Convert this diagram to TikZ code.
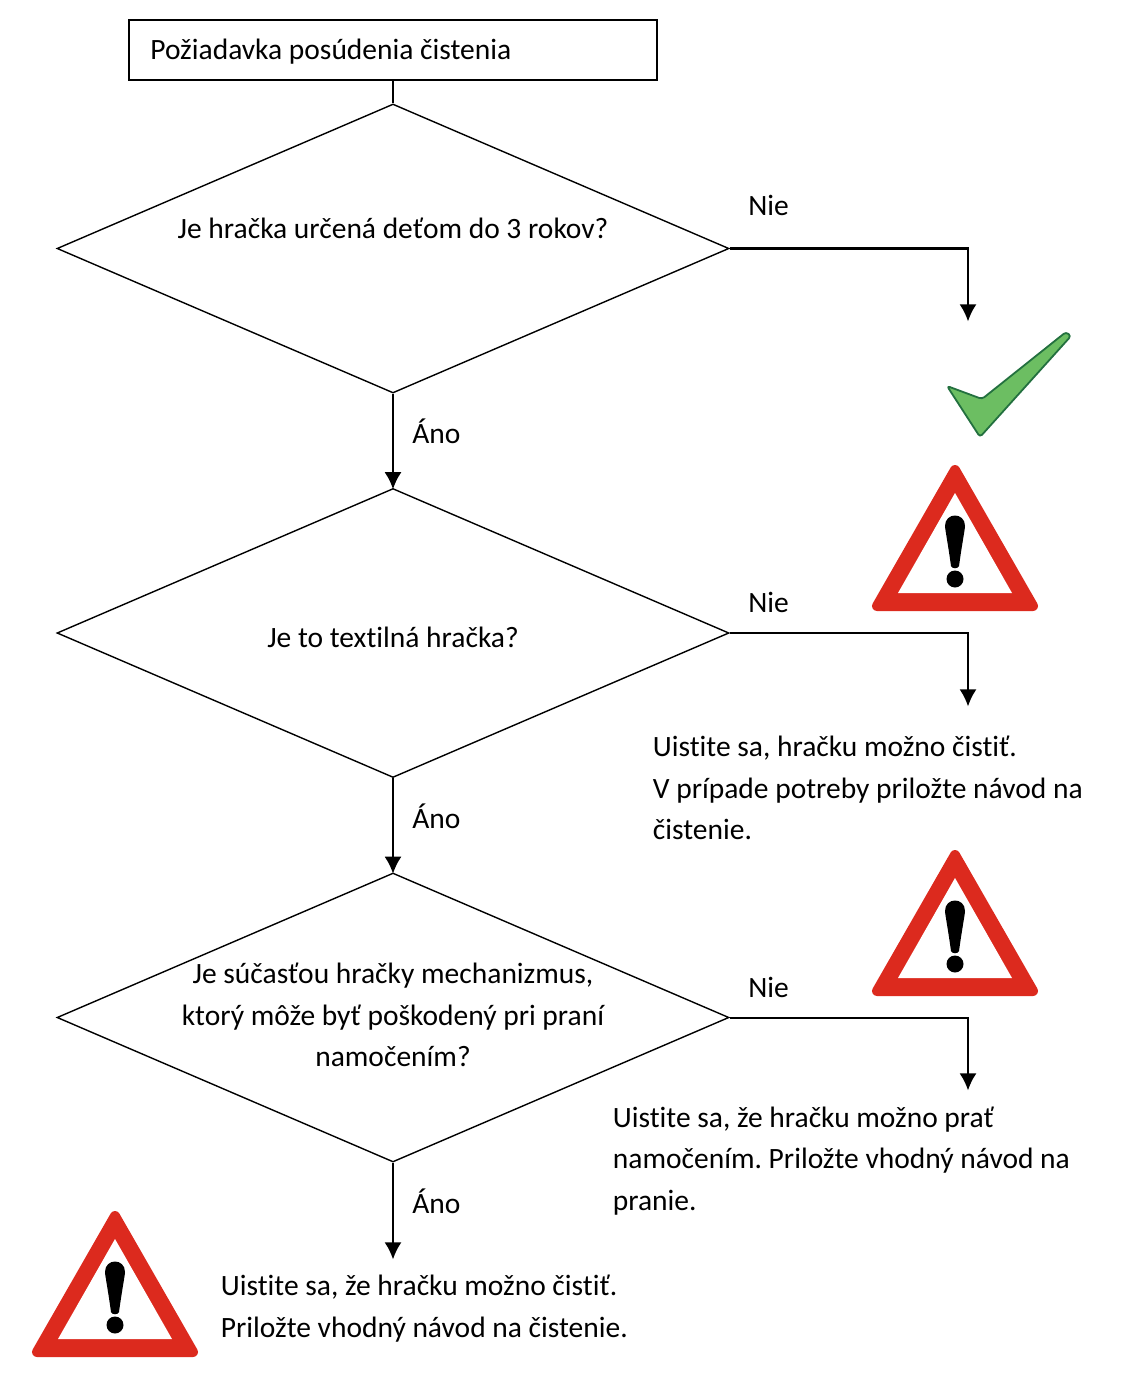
\documentclass[tikz,border=0pt]{standalone}
\usepackage{fontspec}
\setmainfont[Ligatures=NoCommon]{Carlito}
\usetikzlibrary{shapes.geometric,arrows.meta}
\definecolor{warnred}{HTML}{DC2A1E}
\definecolor{checkgreen}{HTML}{6CBE62}
\definecolor{checkedge}{HTML}{23703F}
\frenchspacing
\tikzset{
    flowtext/.style={inner sep=0pt, align=left, font=\fontsize{14.75}{20.85}\selectfont},
    question/.style={draw=black, line width=0.7pt, shape=diamond, aspect=2.33, inner sep=0pt, minimum width=336pt, minimum height=144.5pt},
    flowarrow/.style={line width=1pt, shorten >=-0.7pt, -{Latex[length=8.5pt,width=8.5pt]}},
    warnsign/.pic={
        \draw[warnred, fill=warnred, line width=5pt, line join=round] (0,6) -- (78,142) -- (-78,142) -- cycle;
        \fill[white] (0,29) -- (57,129) -- (-57,129) -- cycle;
        \fill[black] (-4,102) .. controls (-7,80) and (-10,65) .. (-10,62) .. controls (-10,48) and (10,48) .. (10,62) .. controls (10,65) and (7,80) .. (4,102) .. controls (3,105) and (-3,105) .. (-4,102) -- cycle;
        \fill[black] (0,115) circle (8.5);
    }
}
\begin{document}
\begin{tikzpicture}[x=0.5pt, y=-0.5pt]
    \useasboundingbox (0,0) rectangle (1125,1396);

    \node[draw=black, line width=0.7pt, minimum width=264pt, minimum height=30pt, inner sep=0pt] (start) at (393,50) {};
    \node[flowtext, anchor=west] (starttext) at (150,51.5) {Požiadavka posúdenia čistenia};

    \node[question] (q1) at (393,248.5) {};
    \node[question] (q2) at (393,633) {};
    \node[question] (q3) at (393,1017.5) {};

    \node[flowtext] (q1text) at (393,228.5) {Je hračka určená deťom do 3 rokov?};
    \node[flowtext] (q2text) at (393,637.5) {Je to textilná hračka?};
    \node[flowtext, align=center] (q3text) at (393,1015) {Je súčasťou hračky mechanizmus,\\ktorý môže byť poškodený pri praní\\namočením?};

    \coordinate (end1) at (968,320);
    \coordinate (end2) at (968,705);
    \coordinate (end3) at (968,1089);
    \coordinate (end4) at (393,1258);

    \draw[line width=0.8pt] (start.south) -- (q1.north);
    \draw[flowarrow] (q1.south) -- (q2.north);
    \draw[flowarrow] (q2.south) -- (q3.north);
    \draw[flowarrow] (q3.south) -- (end4);
    \draw[flowarrow] (q1.east) -| (end1);
    \draw[flowarrow] (q2.east) -| (end2);
    \draw[flowarrow] (q3.east) -| (end3);

    \node[flowtext, anchor=west] (no1) at (748,205) {Nie};
    \node[flowtext, anchor=west] (no2) at (748,602) {Nie};
    \node[flowtext, anchor=west] (no3) at (748,987) {Nie};
    \node[flowtext, anchor=west] (yes1) at (412,431) {Áno};
    \node[flowtext, anchor=west] (yes2) at (412,816) {Áno};
    \node[flowtext, anchor=west] (yes3) at (412,1201) {Áno};

    \node[flowtext, anchor=west] (note1) at (652.5,788) {Uistite sa, hračku možno čistiť.\\V prípade potreby priložte návod na\\čistenie.};
    \node[flowtext, anchor=west] (note2) at (612.5,1161) {Uistite sa, že hračku možno prať\\namočením. Priložte vhodný návod na\\pranie.};
    \node[flowtext, anchor=west] (note3) at (220.5,1308.5) {Uistite sa, že hračku možno čistiť.\\Priložte vhodný návod na čistenie.};

    % check mark
    \draw[checkedge, fill=checkgreen, line width=0.9pt, line join=round, rounded corners=1.5pt] (947,386) -- (982,399) -- (1066,332) -- (1071,336) -- (980,437) -- cycle;

    \pic at (955,464) {warnsign};
    \pic at (955,849) {warnsign};
    \pic at (115,1210) {warnsign};
\end{tikzpicture}
\end{document}
